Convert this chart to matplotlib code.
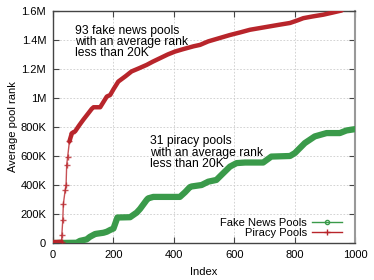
import matplotlib.pyplot as plt

plt.rcParams['font.family'] = ['Liberation Sans', 'DejaVu Sans']

# Piracy pools (red) - index vs average pool rank
piracy_idx = [0, 10, 20, 28, 29, 32, 34, 40, 43, 45, 48, 54, 62, 73, 86, 100, 115, 128, 134, 156,
              178, 189, 200, 216, 240, 260, 285, 310, 330, 354, 380, 404, 430, 465, 487, 514,
              550, 586, 620, 652, 680, 708, 750, 785, 810, 829, 860, 895, 925, 956]
piracy_rank = [8000, 8000, 9000, 10000, 55000, 160000, 270000, 365000, 400000, 540000, 590000,
               700000, 757000, 770000, 810000, 850000, 890000, 925000, 936000, 936000,
               1010000, 1020000, 1060000, 1113000, 1150000, 1183000, 1205000, 1228000, 1250000,
               1274000, 1300000, 1320000, 1336000, 1356000, 1366000, 1390000, 1412000, 1434000,
               1452000, 1470000, 1480000, 1490000, 1505000, 1517000, 1535000, 1550000, 1562000,
               1574000, 1588000, 1603000]

# Fake news pools (green)
fake_idx = [0, 40, 78, 89, 111, 122, 139, 144, 167, 178, 189, 200, 213, 255, 277, 288, 310, 315,
            332, 420, 437, 453, 459, 492, 514, 541, 558, 586, 608, 636, 696, 723, 785, 801, 834,
            867, 906, 950, 972, 1000]
fake_rank = [0, 1000, 2000, 15000, 25000, 43000, 62000, 64000, 71000, 78000, 90000, 100000,
             176000, 178000, 210000, 235000, 297000, 308000, 318000, 318000, 350000, 385000,
             390000, 400000, 423000, 435000, 470000, 527000, 551000, 555000, 555000, 596000,
             600000, 620000, 689000, 735000, 758000, 758000, 776000, 785000]

x_ticks = [0, 200, 400, 600, 800, 1000]
y_ticks = [0, 200000, 400000, 600000, 800000, 1000000, 1200000, 1400000, 1600000]
y_labels = ["0", "200K", "400K", "600K", "800K", "1M", "1.2M", "1.4M", "1.6M"]

green = "#3a9a4a"
red = "#b8252b"

fig = plt.figure(figsize=(3.74, 2.80), dpi=100)
ax = fig.add_axes([0.142, 0.132, 0.807, 0.829])

ax.plot(fake_idx, fake_rank, color=green, lw=4.5, solid_capstyle="round", zorder=3)
# flat start and the dense upper part look thick, the steep climb is thin with markers
ax.plot(piracy_idx[:4], piracy_rank[:4], color=red, lw=3, solid_capstyle="round", zorder=4)
ax.plot(piracy_idx[3:13], piracy_rank[3:13], color=red, lw=1, alpha=0.8, zorder=4,
        marker="+", ms=5, mew=1)
ax.plot(piracy_idx[11:], piracy_rank[11:], color=red, lw=3.2, solid_capstyle="round", zorder=4)

# legend handles (gnuplot style: text first, sample on the right)
ax.plot([], [], color=green, lw=1, marker="o", ms=3, mfc="none", label="Fake News Pools")
ax.plot([], [], color=red, lw=1, marker="+", ms=4, label="Piracy Pools")
ax.legend(loc="lower right", bbox_to_anchor=(0.98, -0.008), frameon=False, markerfirst=False,
          fontsize=8, handlelength=2.7, borderaxespad=0.2, labelspacing=0.0,
          handletextpad=0.5)

ax.text(73, 1505000, "93 fake news pools\nwith an average rank\nless than 20K",
        fontsize=8.7, va="top", ha="left", linespacing=0.92)
ax.text(321, 742000, "31 piracy pools\nwith an average rank\nless than 20K",
        fontsize=8.7, va="top", ha="left", linespacing=0.92)

ax.set_xlim(0, 1000)
ax.set_ylim(0, 1600000)
ax.set_xticks(x_ticks)
ax.set_yticks(y_ticks)
ax.set_yticklabels(y_labels)
ax.tick_params(direction="in", top=True, right=True, labelsize=8, length=4,
               color="#444444", pad=5)
ax.grid(True, color="#cccccc", linestyle=(0, (2, 2)), lw=0.6)
for s in ax.spines.values():
    s.set_color("#444444")
    s.set_linewidth(1)
ax.spines["right"].set_color("#999999")
ax.spines["right"].set_linewidth(1.5)

ax.set_xlabel("Index", fontsize=8, labelpad=5)
ax.set_ylabel("Average pool rank", fontsize=8, labelpad=2)

fig.savefig("out.png", dpi=100)
